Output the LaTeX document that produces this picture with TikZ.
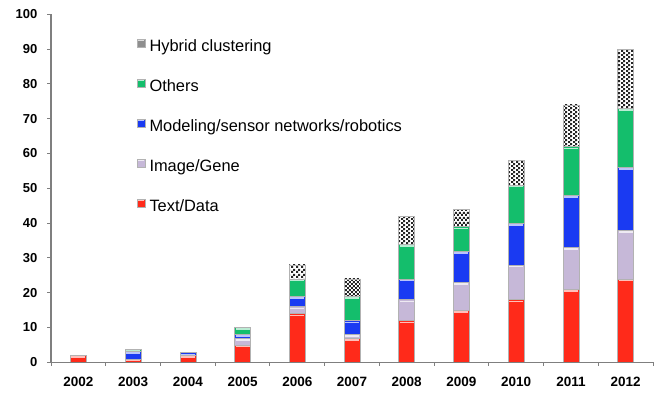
\documentclass[tikz,border=0pt]{standalone}
\usepackage{fontspec}
\setmainfont{Liberation Sans}
\usetikzlibrary{patterns.meta}

\definecolor{textred}{HTML}{FF2A1A}
\definecolor{imglav}{HTML}{C6B8D8}
\definecolor{modblue}{HTML}{1A3AF2}
\definecolor{othgreen}{HTML}{14BE6C}
\definecolor{hybgray}{HTML}{8E8E8E}
\definecolor{axisgray}{HTML}{7F7F7F}

% fine checkerboard for the hybrid segments
\tikzdeclarepattern{
  name=finechecks,
  type=uncolored,
  bounding box={(0pt,0pt) and (4.4pt,4.4pt)},
  tile size={(4.4pt,4.4pt)},
  code={
    \fill (0pt,0pt) rectangle (2.2pt,2.2pt);
    \fill (2.2pt,2.2pt) rectangle (4.4pt,4.4pt);
  }
}

\tikzset{
  axisline/.style={draw=axisgray, line width=1.3pt},
  tickmark/.style={draw=axisgray, line width=1pt},
  ticklabel/.style={font=\fontsize{13}{13}\selectfont\bfseries, anchor=east, inner sep=0pt},
  yearlabel/.style={font=\fontsize{13.5}{14}\selectfont\bfseries, inner sep=0pt},
  legendtext/.style={font=\fontsize{16.4}{17}\selectfont, anchor=base west, inner sep=0pt},
  segedge/.style={draw=black!30, line width=0.5pt},
}

% value -> vertical position (pt)
\newcommand\valy[1]{30.7+3.48*(#1)}

% one glossy stacked-bar segment: centre x, lower value, upper value, colour
\newcommand\gelseg[4]{%
  \pgfmathsetmacro\segbot{\valy{#2}}%
  \pgfmathsetmacro\segtop{\valy{#3}}%
  \ifdim\segtop pt>\segbot pt\relax
    \fill[#4] (#1-8,\segbot) rectangle (#1+8,\segtop);
    \begin{scope}
      \clip (#1-8,\segbot) rectangle (#1+8,\segtop);
      \fill[#4!30!white] (#1-7,\segtop-2.6) rectangle (#1+7,\segtop-1);
    \end{scope}
    \draw[segedge] (#1-8,\segbot) rectangle (#1+8,\segtop);
  \fi}

% checkered top segment
\newcommand\hybseg[3]{%
  \pgfmathsetmacro\segbot{\valy{#2}}%
  \pgfmathsetmacro\segtop{\valy{#3}}%
  \ifdim\segtop pt>\segbot pt\relax
    \fill[white] (#1-8,\segbot) rectangle (#1+8,\segtop);
    \fill[pattern=finechecks, pattern color=black!85] (#1-8,\segbot) rectangle (#1+8,\segtop);
    \draw[segedge] (#1-8,\segbot) rectangle (#1+8,\segtop);
  \fi}

% legend swatch: left x, top y, colour
\newcommand\swatch[3]{%
  \fill[#3] (#1,#2-8) rectangle (#1+8,#2);
  \fill[#3!30!white] (#1+1,#2-2.2) rectangle (#1+7,#2-1);
  \draw[segedge] (#1,#2-8) rectangle (#1+8,#2);}

\begin{document}
\begin{tikzpicture}[x=1pt,y=1pt]
  \useasboundingbox (0,0) rectangle (665,393);

  % stacked bars: index / text / image / modeling / others / hybrid
  \foreach \i/\a/\b/\c/\d/\e in {
      0/2/0/0/0/0,
      1/1/0/2.2/0.6/0,
      2/2/0/0.8/0/0,
      3/5/2/1/2/0,
      4/14/2/3/5/4,
      5/7/1/4/7/5,
      6/12/6/6/10/8,
      7/15/8/9/7/5,
      8/18/10/12/11/7,
      9/21/12/15/14/12,
      10/24/14/18/17/17} {
    \pgfmathsetmacro\cx{51+54.727*(\i+0.5)}
    \pgfmathsetmacro\sa{\a}
    \pgfmathsetmacro\sb{\a+\b}
    \pgfmathsetmacro\sc{\a+\b+\c}
    \pgfmathsetmacro\sd{\a+\b+\c+\d}
    \pgfmathsetmacro\se{\a+\b+\c+\d+\e}
    \gelseg{\cx}{0}{\sa}{textred}
    \gelseg{\cx}{\sa}{\sb}{imglav}
    \gelseg{\cx}{\sb}{\sc}{modblue}
    \gelseg{\cx}{\sc}{\sd}{othgreen}
    \hybseg{\cx}{\sd}{\se}
  }

  % axes
  \coordinate (origin) at (51,30.7);
  \coordinate (ytop) at (51,378.7);
  \coordinate (xend) at (653,30.7);
  \draw[axisline] (ytop) -- (origin) -- (xend);

  % vertical scale
  \foreach \v in {0,10,...,100} {
    \draw[tickmark] (47,{\valy{\v}}) -- (51,{\valy{\v}});
    \node[ticklabel] (yl\v) at (37.5,{\valy{\v}}) {\v};
  }

  % category boundaries and year labels
  \foreach \k in {0,...,11} {
    \draw[tickmark] ({51+54.727*\k},30.7) -- ({51+54.727*\k},26.5);
  }
  \foreach \i [evaluate=\i as \yr using int(2002+\i)] in {0,...,10} {
    \node[yearlabel] (year\i) at ({51+54.727*(\i+0.5)},11) {\yr};
  }

  % legend
  \swatch{137}{353.7}{hybgray}
  \node[legendtext] (lgHybrid) at (149.3,341) {Hybrid clustering};
  \swatch{137}{313.7}{othgreen}
  \node[legendtext] (lgOthers) at (149.3,301) {Others};
  \swatch{137}{273.7}{modblue}
  \node[legendtext] (lgModel) at (149.3,261) {Modeling/sensor networks/robotics};
  \swatch{137}{233.7}{imglav}
  \node[legendtext] (lgImage) at (149.3,221) {Image/Gene};
  \swatch{137}{193.7}{textred}
  \node[legendtext] (lgText) at (149.3,181) {Text/Data};
\end{tikzpicture}
\end{document}
